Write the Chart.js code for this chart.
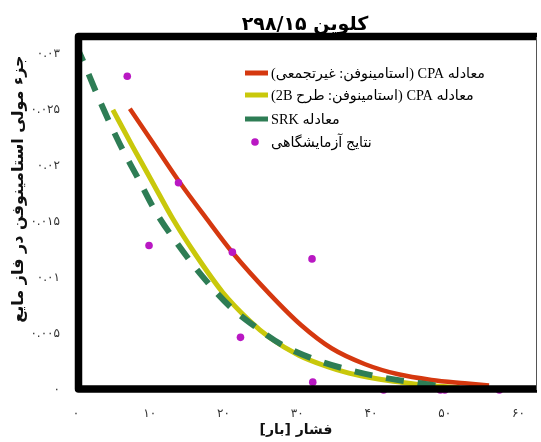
<!DOCTYPE html>
<html>
<head>
<meta charset="utf-8">
<script src="https://cdn.jsdelivr.net/npm/chart.js@4/dist/chart.umd.min.js"></script>
<style>
body { margin: 0; background: #fff; }
#wrap { width: 541px; height: 442px; }
</style>
</head>
<body>
<div id="wrap"><canvas id="chart" width="541" height="442"></canvas></div>
<script>
// values
var seriesLabels = [
  'معادله CPA (استامینوفن: غیرتجمعی)',
  'معادله CPA (استامینوفن: طرح 2B)',
  'معادله SRK',
  'نتایج آزمایشگاهی'
];

var cpaNonX = [7.3, 10.7, 14.1, 17.7, 21.3, 26.2, 30.5, 34.7, 39.2, 43.7, 48.2, 52.7, 56];
var cpaNonY = [0.0251, 0.0218, 0.0185, 0.0153, 0.0122, 0.0086, 0.0058, 0.0037, 0.0023, 0.0014, 0.0009, 0.0006, 0.0004];

var cpa2bX = [5.0, 7.7, 10.4, 13.1, 16.3, 19.9, 23.5, 26.2, 30.2, 34, 37.0, 40.8, 44, 48, 52];
var cpa2bY = [0.0250, 0.0217, 0.0185, 0.0153, 0.0120, 0.0087, 0.0062, 0.0047, 0.0031, 0.0021, 0.0015, 0.0010, 0.0007, 0.0004, 0.0002];

var srkX = [0, 1.0, 3.1, 5.9, 8.4, 10.9, 13.8, 17.2, 20.8, 24.6, 28, 32.5, 37, 41.7, 46.7, 50];
var srkY = [0.0308, 0.0293, 0.0260, 0.0220, 0.0189, 0.0158, 0.0130, 0.0101, 0.0075, 0.0055, 0.0040, 0.0027, 0.0018, 0.0011, 0.0006, 0.0003];

var expX = [6.95, 9.9, 13.9, 21.2, 22.3, 32.0, 32.1, 41.7, 49.4, 50.0, 57.4];
var expY = [0.0280, 0.0129, 0.0185, 0.0123, 0.0047, 0.0117, 0.0007, 0, 0, 0, 0];

var xTicks = [0, 10, 20, 30, 40, 50, 60];
var xTickLabels = ['۰', '۱۰', '۲۰', '۳۰', '۴۰', '۵۰', '۶۰'];
var yTicks = [0, 0.005, 0.01, 0.015, 0.02, 0.025, 0.03];
var yTickLabels = ['۰', '۰.۰۰۵', '۰.۰۱', '۰.۰۱۵', '۰.۰۲', '۰.۰۲۵', '۰.۰۳'];

var titleText = '۲۹۸/۱۵ کلوین';
var xTitle = 'فشار [بار]';
var yTitle = 'جزء مولی استامینوفن در فاز مایع';

var FONT = "'DejaVu Sans'";
var LEGEND_FONT = "'Liberation Serif', 'DejaVu Sans'";

function pts(xs, ys) {
  var out = [];
  for (var i = 0; i < xs.length; i++) out.push({ x: xs[i], y: ys[i] });
  return out;
}

// frame, titles and legend
var decorPlugin = {
  id: 'decor',
  afterDatasetsDraw: function (chart) {
    var a = chart.chartArea, ctx = chart.ctx;
    ctx.save();
    ctx.strokeStyle = '#000';
    ctx.lineJoin = 'round';
    ctx.lineWidth = 7.5;
    ctx.beginPath();
    ctx.moveTo(a.right, a.top - 0.5);
    ctx.lineTo(a.left + 2.5, a.top - 0.5);
    ctx.lineTo(a.left + 2.5, a.bottom - 1);
    ctx.lineTo(a.right, a.bottom - 1);
    ctx.stroke();
    ctx.strokeStyle = '#555';
    ctx.lineWidth = 1;
    ctx.beginPath();
    ctx.moveTo(a.right - 0.5, a.top);
    ctx.lineTo(a.right - 0.5, a.bottom);
    ctx.stroke();
    ctx.restore();
  },
  afterDraw: function (chart) {
    var ctx = chart.ctx;
    ctx.save();
    ctx.fillStyle = '#000';
    ctx.textBaseline = 'middle';

    // title: number on the left, word on the right
    var parts = titleText.split(' ');
    ctx.font = 'bold 19px ' + FONT;
    ctx.textAlign = 'left';
    var wNum = ctx.measureText(parts[0]).width;
    var wSp = ctx.measureText(' ').width;
    var wWord = ctx.measureText(parts[1]).width;
    var x0 = 305 - (wNum + wSp + wWord) / 2;
    ctx.fillText(parts[0], x0, 25);
    ctx.fillText(parts[1], x0 + wNum + wSp, 25);

    // x title
    ctx.direction = 'rtl';
    ctx.textAlign = 'center';
    ctx.font = 'bold 14px ' + FONT;
    ctx.fillStyle = '#111';
    ctx.fillText(xTitle, 296, 430);

    // y title
    ctx.save();
    ctx.translate(19, 189);
    ctx.rotate(-Math.PI / 2);
    ctx.font = 'bold 13px ' + FONT;
    var w = ctx.measureText(yTitle).width;
    var s = 13 * 268 / w;
    ctx.font = 'bold ' + s.toFixed(1) + 'px ' + FONT;
    ctx.fillText(yTitle, 0, 0);
    ctx.restore();

    // legend
    var rowsY = [73, 95, 119, 142];
    ctx.font = '15px ' + LEGEND_FONT;
    var w1 = ctx.measureText(seriesLabels[0]).width;
    var fs = 15 * 214 / w1;
    ctx.font = fs.toFixed(1) + 'px ' + LEGEND_FONT;
    ctx.textAlign = 'left';
    ctx.direction = 'rtl';
    chart.data.datasets.forEach(function (ds, i) {
      var y = rowsY[i];
      if (ds.showLine) {
        ctx.strokeStyle = ds.borderColor;
        ctx.lineWidth = 5;
        ctx.setLineDash([]);
        ctx.beginPath();
        ctx.moveTo(245, y);
        ctx.lineTo(268, y);
        ctx.stroke();
      } else {
        ctx.fillStyle = ds.backgroundColor;
        ctx.beginPath();
        ctx.arc(255, y, 3.8, 0, Math.PI * 2);
        ctx.fill();
      }
      ctx.fillStyle = '#000';
      ctx.fillText(ds.label, 271, y + 1);
    });
    ctx.restore();
  }
};

new Chart(document.getElementById('chart'), {
  type: 'scatter',
  data: {
    datasets: [
      {
        label: seriesLabels[0],
        data: pts(cpaNonX, cpaNonY),
        showLine: true,
        borderColor: '#d5380f',
        borderWidth: 4.5,
        pointRadius: 0,
        cubicInterpolationMode: 'monotone',
        order: 2
      },
      {
        label: seriesLabels[1],
        data: pts(cpa2bX, cpa2bY),
        showLine: true,
        borderColor: '#c9c80b',
        borderWidth: 5,
        pointRadius: 0,
        cubicInterpolationMode: 'monotone',
        order: 3
      },
      {
        label: seriesLabels[2],
        data: pts(srkX, srkY),
        showLine: true,
        borderColor: '#2e7d55',
        borderWidth: 6,
        borderDash: [18, 14],
        pointRadius: 0,
        cubicInterpolationMode: 'monotone',
        order: 1
      },
      {
        label: seriesLabels[3],
        data: pts(expX, expY),
        showLine: false,
        backgroundColor: '#b918c3',
        borderWidth: 0,
        pointRadius: 3.8,
        clip: false,
        order: 0
      }
    ]
  },
  options: {
    responsive: false,
    animation: false,
    events: [],
    layout: { padding: { top: 37, right: 2, left: 0, bottom: 0 } },
    plugins: {
      legend: { display: false },
      title: { display: false },
      tooltip: { enabled: false }
    },
    scales: {
      x: {
        type: 'linear',
        min: 0,
        max: 62.5,
        grid: { display: false },
        border: { display: false },
        afterFit: function (scale) { scale.height = 52; },
        afterBuildTicks: function (scale) {
          scale.ticks = xTicks.map(function (v) { return { value: v }; });
        },
        ticks: {
          padding: 9,
          color: '#333',
          font: { family: FONT, size: 12 },
          maxRotation: 0,
          callback: function (v, i) { return xTickLabels[i]; }
        }
      },
      y: {
        type: 'linear',
        min: 0,
        max: 0.0315,
        grid: { display: false },
        border: { display: false },
        afterFit: function (scale) { scale.width = 76; },
        afterBuildTicks: function (scale) {
          scale.ticks = yTicks.map(function (v) { return { value: v }; });
        },
        ticks: {
          padding: 8,
          color: '#333',
          font: { family: FONT, size: 12 },
          callback: function (v, i) { return yTickLabels[i]; }
        }
      }
    }
  },
  plugins: [decorPlugin]
});
</script>
</body>
</html>
